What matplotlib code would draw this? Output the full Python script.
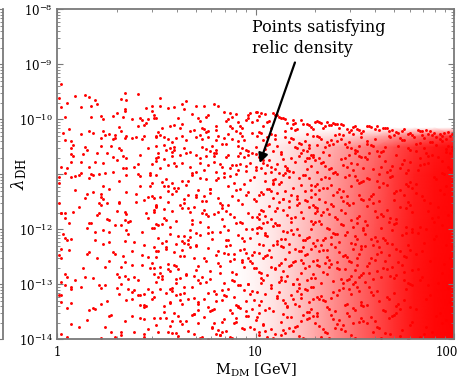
import numpy as np
import matplotlib

matplotlib.use("Agg")
import matplotlib.pyplot as plt  # noqa: E402
from matplotlib.colors import LinearSegmentedColormap  # noqa: E402
from matplotlib.ticker import (  # noqa: E402
    FixedLocator,
    FuncFormatter,
    LogLocator,
    NullFormatter,
    NullLocator,
)
from matplotlib.transforms import ScaledTranslation  # noqa: E402

OUT_PATH = "out.png"

# Scan points, stored as pairs of
# log10(M_DM / GeV), log10(lambda_DH).
PTS_1_TO_3_GEV_TOP = [
    0.02, -9.35, 0.09, -9.58, 0.34, -9.52, 0.41, -9.54, 0.14, -9.56, 0.16, -9.59, 0.19, -9.64,
    0.32, -9.63, 0.35, -9.65, 0.01, -9.62, 0.05, -9.70, 0.17, -9.75, 0.12, -9.77, 0.20, -9.72,
    0.34, -9.81, 0.34, -9.85, 0.45, -9.80, 0.48, -9.76, 0.48, -9.84, 0.02, -9.78, 0.30, -9.89,
    0.28, -9.94, 0.22, -9.94, 0.17, -9.95, 0.04, -9.96, 0.23, -9.99, 0.42, -9.98, 0.43, -10.02,
    0.49, -9.98, 0.46, -10.00, 0.45, -10.06, 0.44, -10.11, 0.50, -9.97, 0.38, -10.00, 0.33, -9.96,
    0.41, -10.12, 0.31, -10.14, 0.32, -10.21, 0.23, -10.21, 0.24, -10.28, 0.26, -10.27, 0.29, -10.29,
    0.29, -10.34, 0.22, -10.34, 0.18, -10.25, 0.16, -10.22, 0.12, -10.26, 0.06, -10.17, 0.03, -10.25,
    0.04, -10.37, 0.07, -10.39, 0.38, -10.34, 0.40, -10.33, 0.43, -10.36, 0.44, -10.31, 0.50, -10.32,
    0.51, -10.23, 0.35, -10.30, 0.34, -10.34, 0.28, -10.36, 0.08, -10.46, 0.22, -10.49, 0.27, -10.48,
    0.31, -10.53, 0.25, -10.62, 0.14, -10.50, 0.15, -10.56, 0.13, -10.63, 0.07, -10.53, 0.07, -10.63,
    0.08, -10.67, 0.12, -10.78, 0.07, -10.78, 0.05, -10.88, 0.02, -10.86, 0.04, -10.98, 0.12, -10.98,
    0.17, -10.99, 0.16, -10.86, 0.19, -10.77, 0.23, -10.79, 0.24, -10.98, 0.28, -10.96, 0.30, -10.74,
    0.33, -10.89, 0.33, -10.67, 0.35, -10.71, 0.32, -10.56, 0.35, -10.89, 0.39, -10.86, 0.41, -10.81,
    0.46, -10.52, 0.48, -10.81, 0.50, -10.70, 0.51, -10.62, 0.50, -10.76, 0.42, -10.65, 0.47, -10.98,
    0.41, -10.99, 0.28, -10.68, 0.20, -10.62,
]

PTS_1_TO_3_GEV_MID = [
    0.07, -11.05, 0.09, -11.03, 0.11, -11.01, 0.16, -11.07, 0.18, -11.01, 0.21, -10.99, 0.35, -11.01,
    0.42, -11.03, 0.47, -11.02, 0.50, -11.02, 0.31, -11.13, 0.48, -11.15, 0.47, -11.22, 0.42, -11.21,
    0.23, -11.22, 0.26, -11.27, 0.09, -11.29, 0.01, -11.04, 0.01, -11.16, 0.15, -11.35, 0.22, -11.36,
    0.22, -11.41, 0.23, -11.44, 0.14, -11.43, 0.18, -11.32, 0.35, -11.32, 0.40, -11.36, 0.46, -11.41,
    0.48, -11.39, 0.49, -11.43, 0.44, -11.46, 0.40, -11.51, 0.31, -11.50, 0.31, -11.53, 0.25, -11.53,
    0.22, -11.56, 0.21, -11.53, 0.50, -11.55, 0.50, -11.59, 0.11, -11.60, 0.02, -11.70, 0.04, -11.70,
    0.08, -11.68, 0.01, -11.53, 0.21, -11.70, 0.20, -11.74, 0.30, -11.66, 0.34, -11.69, 0.35, -11.72,
    0.45, -11.71, 0.49, -11.65, 0.49, -11.69, 0.25, -11.81, 0.26, -11.83, 0.34, -11.83, 0.37, -11.85,
    0.36, -11.86, 0.29, -11.92, 0.32, -11.92, 0.17, -11.88, 0.16, -11.89, 0.06, -11.88, 0.04, -11.80,
    0.02, -11.71, 0.46, -11.80, 0.50, -11.91, 0.49, -11.98, 0.15, -11.98, 0.19, -12.05, 0.23, -12.02,
    0.26, -12.05, 0.35, -12.02, 0.36, -12.08, 0.43, -12.05, 0.48, -11.98, 0.03, -12.08, 0.04, -12.15,
    0.05, -12.20, 0.07, -12.17, 0.02, -12.35, 0.06, -12.37, 0.19, -12.20, 0.23, -12.27, 0.26, -12.23,
    0.34, -12.21, 0.39, -12.23, 0.44, -12.29, 0.49, -12.32, 0.50, -12.40, 0.16, -12.41, 0.15, -12.45,
    0.20, -12.53, 0.28, -12.42, 0.29, -12.44, 0.33, -12.49, 0.38, -12.40, 0.43, -12.47, 0.46, -12.51,
    0.01, -12.47,
]

PTS_1_TO_3_GEV_LOW = [
    0.02, -12.53, 0.26, -12.58, 0.34, -12.59, 0.38, -12.64, 0.48, -12.61, 0.49, -12.70, 0.47, -12.71,
    0.43, -12.64, 0.32, -12.68, 0.24, -12.68, 0.13, -12.71, 0.04, -12.81, 0.05, -12.87, 0.09, -12.93,
    0.14, -12.87, 0.18, -12.89, 0.30, -12.81, 0.31, -12.87, 0.34, -12.84, 0.36, -12.90, 0.39, -12.87,
    0.41, -12.93, 0.49, -12.81, 0.50, -12.96, 0.02, -12.96, 0.04, -13.01, 0.07, -13.05, 0.07, -13.08,
    0.12, -13.05, 0.21, -13.02, 0.22, -13.07, 0.24, -13.01, 0.30, -13.06, 0.32, -12.99, 0.36, -13.08,
    0.38, -13.14, 0.39, -13.10, 0.41, -13.20, 0.42, -13.19, 0.44, -13.18, 0.46, -13.08, 0.48, -13.14,
    0.49, -13.23, 0.01, -13.19, 0.02, -13.20, 0.02, -13.32, 0.07, -13.34, 0.05, -13.43, 0.18, -13.43,
    0.16, -13.46, 0.19, -13.44, 0.22, -13.35, 0.25, -13.31, 0.31, -13.17, 0.35, -13.29, 0.38, -13.26,
    0.42, -13.38, 0.44, -13.41, 0.44, -13.37, 0.45, -13.40, 0.48, -13.26, 0.26, -13.58, 0.27, -13.55,
    0.15, -13.65, 0.07, -13.72, 0.11, -13.77, 0.24, -13.78, 0.27, -13.86, 0.32, -13.87, 0.34, -13.66,
    0.38, -13.58, 0.42, -13.62, 0.44, -13.63, 0.49, -13.62, 0.46, -13.81, 0.44, -13.90, 0.39, -13.87,
    0.02, -13.90, 0.05, -13.95, 0.22, -13.98, 0.29, -13.95, 0.32, -13.92, 0.44, -13.96,
]

PTS_3_TO_10_GEV_TOP = [
    0.52, -9.61, 0.65, -9.66, 0.52, -9.75, 0.63, -9.73, 0.56, -9.80, 0.59, -9.78, 0.64, -9.81,
    0.70, -9.75, 0.74, -9.76, 0.79, -9.73, 0.81, -9.76, 0.75, -9.95, 0.76, -9.93, 0.84, -9.86,
    0.87, -9.89, 0.90, -9.90, 0.88, -9.95, 0.97, -9.89, 1.00, -9.87, 0.68, -9.90, 0.71, -9.98,
    0.72, -10.03, 0.61, -9.98, 0.49, -9.92, 0.85, -10.03, 0.86, -10.00, 0.95, -10.02, 0.96, -9.97,
    0.98, -10.04, 1.01, -10.01, 0.91, -10.05, 0.53, -10.15, 0.57, -10.13, 0.59, -10.10, 0.62, -10.16,
    0.63, -10.09, 0.67, -10.22, 0.69, -10.19, 0.74, -10.18, 0.75, -10.23, 0.76, -10.21, 0.80, -10.13,
    0.80, -10.19, 0.86, -10.27, 0.88, -10.15, 0.90, -10.22, 0.92, -10.12, 0.93, -10.16, 0.50, -10.31,
    0.52, -10.29, 0.54, -10.33, 0.56, -10.36, 0.60, -10.34, 0.63, -10.30, 0.65, -10.37, 0.70, -10.33,
    0.73, -10.35, 0.76, -10.32, 0.80, -10.38, 0.81, -10.30, 0.84, -10.34, 0.88, -10.36, 0.91, -10.40,
    0.93, -10.31, 0.98, -10.25, 0.50, -10.49, 0.54, -10.47, 0.55, -10.56, 0.57, -10.52, 0.58, -10.60,
    0.59, -10.55, 0.64, -10.53, 0.73, -10.51, 0.75, -10.54, 0.77, -10.57, 0.78, -10.48, 0.83, -10.45,
    0.85, -10.44, 0.91, -10.48, 0.93, -10.53, 0.95, -10.55, 0.96, -10.58, 0.98, -10.61, 1.00, -10.51,
    0.51, -10.68, 0.54, -10.72, 0.58, -10.66, 0.62, -10.64, 0.65, -10.62, 0.67, -10.60, 0.70, -10.65,
    0.72, -10.70, 0.75, -10.66, 0.79, -10.67, 0.80, -10.62, 0.85, -10.69, 0.86, -10.64, 0.91, -10.66,
    0.92, -10.61, 0.94, -10.68, 0.96, -10.65, 1.00, -10.63, 0.52, -10.89, 0.56, -10.83, 0.60, -10.84,
    0.63, -10.80, 0.67, -10.86, 0.72, -10.79, 0.76, -10.83, 0.79, -10.77, 0.82, -10.82, 0.83, -10.87,
    0.87, -10.88, 0.90, -10.83, 0.92, -10.81, 0.95, -10.84, 0.97, -10.80, 1.00, -10.86, 0.68, -10.98,
    0.70, -10.96, 0.80, -10.95, 0.84, -10.97, 0.90, -10.99, 0.91, -10.92, 0.95, -10.94, 1.00, -10.93,
]

PTS_3_TO_10_GEV_LOW = [
    0.63, -11.12, 0.91, -11.47, 0.55, -11.83, 0.78, -12.05, 0.99, -12.41, 0.52, -12.68, 0.84, -12.97, 0.69, -13.24, 0.95, -13.58, 0.60, -13.89,
    0.87, -11.03, 0.58, -11.36, 0.74, -11.64, 1.01, -11.98, 0.66, -12.27, 0.93, -12.55, 0.51, -12.86, 0.80, -13.17, 0.71, -13.46, 0.97, -13.77,
    0.54, -11.21, 0.82, -11.52, 0.96, -11.71, 0.61, -12.13, 0.76, -12.34, 0.88, -12.77, 0.68, -13.05, 0.57, -13.33, 1.00, -13.65, 0.73, -13.96,
    0.92, -11.27, 0.70, -11.41, 0.53, -11.90, 0.85, -12.19, 0.64, -12.49, 0.98, -12.62, 0.77, -12.91, 0.90, -13.38, 0.59, -13.52, 0.81, -13.83,
    0.75, -11.08, 0.50, -11.58, 0.89, -11.77, 0.67, -12.02, 0.94, -12.36, 0.56, -12.72, 0.83, -13.11, 0.62, -13.29, 0.79, -13.71, 1.02, -13.92,
    0.58, -11.16, 0.96, -11.33, 0.72, -11.86, 0.53, -12.24, 0.86, -12.45, 0.65, -12.83, 0.91, -13.02, 0.76, -13.41, 0.55, -13.62, 0.88, -13.98,
    0.99, -11.05, 0.64, -11.44, 0.81, -11.68, 0.57, -12.09, 0.70, -12.31, 0.93, -12.59, 0.52, -13.08, 0.85, -13.21, 0.68, -13.55, 0.78, -13.80,
    0.61, -11.24, 0.86, -11.55, 0.54, -11.79, 0.97, -12.16, 0.74, -12.52, 0.60, -12.66, 0.89, -12.94, 0.71, -13.35, 0.95, -13.49, 0.51, -13.86,
    0.80, -11.10, 0.95, -11.38, 0.66, -11.62, 0.84, -11.94, 0.51, -12.39, 0.77, -12.75, 0.62, -12.88, 1.01, -13.14, 0.83, -13.68, 0.69, -13.91,
    0.56, -11.30, 0.73, -11.49, 0.90, -11.88, 0.63, -12.21, 0.98, -12.47, 0.82, -12.80, 0.55, -13.15, 0.92, -13.43, 0.74, -13.60, 0.61, -13.94,
    0.94, -11.18, 0.52, -11.42, 0.79, -11.73, 0.70, -12.07, 0.87, -12.29, 0.59, -12.64, 0.96, -12.99, 0.66, -13.27, 0.50, -13.74, 0.85, -13.85,
    0.68, -11.01, 0.83, -11.61, 0.57, -11.96, 0.91, -12.11, 0.75, -12.57, 1.00, -12.70, 0.64, -13.04, 0.80, -13.31, 0.88, -13.53, 0.72, -13.97,
    0.53, -11.14, 0.77, -11.34, 1.02, -11.81, 0.60, -12.26, 0.84, -12.43, 0.71, -12.92, 0.97, -13.18, 0.54, -13.39, 0.65, -13.66, 0.93, -13.79,
    0.86, -11.22, 0.62, -11.56, 0.73, -11.70, 0.95, -12.00, 0.55, -12.33, 0.81, -12.61, 0.69, -12.84, 0.89, -13.23, 0.78, -13.47, 0.58, -13.88,
    0.72, -11.07, 0.99, -11.45, 0.60, -11.85, 0.78, -12.18, 0.92, -12.38, 0.52, -12.79, 0.86, -13.09, 0.63, -13.36, 0.96, -13.57, 0.82, -13.93,
    0.90, -11.28, 0.56, -11.51, 0.85, -11.67, 0.67, -12.14, 0.50, -12.50, 0.94, -12.69, 0.75, -12.95, 0.58, -13.12, 0.71, -13.70, 0.99, -13.82,
    0.65, -11.19, 0.88, -11.39, 0.51, -11.92, 0.82, -12.04, 0.70, -12.28, 0.61, -12.73, 0.92, -13.01, 0.79, -13.44, 0.54, -13.51, 0.76, -13.99,
    0.97, -11.11, 0.69, -11.59, 0.76, -11.75, 0.55, -12.22, 0.89, -12.54, 0.73, -12.87, 0.60, -13.20, 0.95, -13.30, 0.84, -13.63, 0.66, -13.84,
    0.59, -11.25, 0.81, -11.43, 0.93, -11.89, 0.72, -12.10, 0.63, -12.37, 0.87, -12.58, 0.53, -12.90, 0.74, -13.26, 1.01, -13.59, 0.57, -13.76,
    0.84, -11.04, 0.66, -11.37, 0.58, -11.66, 0.98, -11.99, 0.80, -12.46, 0.56, -12.63, 0.79, -13.13, 0.91, -13.40, 0.62, -13.67, 0.87, -13.95,
    0.71, -11.29, 0.93, -11.54, 0.83, -11.82, 0.51, -12.15, 0.67, -12.32, 0.90, -12.81, 0.72, -12.98, 0.57, -13.34, 0.77, -13.48, 0.94, -13.81,
    0.55, -11.09, 0.75, -11.48, 0.98, -11.78, 0.86, -12.20, 0.59, -12.42, 0.70, -12.74, 0.88, -12.93, 0.64, -13.16, 0.52, -13.61, 0.80, -13.90,
    0.89, -11.15, 0.60, -11.31, 0.68, -11.91, 0.76, -12.06, 0.96, -12.53, 0.82, -12.67, 0.58, -13.07, 0.98, -13.45, 0.69, -13.54, 0.63, -13.73,
    0.77, -11.26, 0.54, -11.63, 0.87, -11.72, 0.64, -12.25, 0.81, -12.40, 0.53, -12.85, 0.94, -13.10, 0.83, -13.28, 0.90, -13.69, 0.56, -13.87,
]

PTS_4_TO_20_GEV_EXTRA = [
    0.58, -10.42, 0.83, -11.55, 1.12, -12.64, 0.71, -13.33, 0.96, -9.93, 1.25, -11.02, 0.64, -12.12, 0.89, -13.71, 1.18, -10.71, 0.76, -11.96,
    1.03, -12.88, 0.61, -13.58, 0.92, -10.24, 1.21, -11.44, 0.69, -12.53, 0.98, -13.12, 1.27, -10.53, 0.56, -11.22, 0.85, -12.31, 1.14, -13.83,
    0.73, -10.16, 1.01, -11.78, 0.60, -12.97, 0.87, -13.46, 1.16, -10.88, 0.67, -11.68, 0.94, -12.22, 1.23, -13.25, 0.79, -10.61, 1.08, -11.31,
    0.57, -12.75, 0.82, -13.92, 1.10, -10.35, 0.66, -11.12, 0.95, -12.43, 1.29, -13.05, 0.74, -10.93, 1.04, -11.89, 0.62, -13.17, 0.90, -13.62,
    1.19, -10.09, 0.70, -11.37, 0.99, -12.70, 1.26, -13.51, 0.59, -10.79, 0.86, -12.02, 1.13, -12.93, 0.78, -13.78, 1.06, -10.47, 0.63, -11.61,
    0.93, -12.16, 1.22, -13.39, 0.72, -10.28, 1.00, -11.49, 0.55, -12.36, 0.84, -13.20, 1.15, -10.97, 0.68, -11.83, 0.97, -12.58, 1.24, -13.97,
    0.80, -10.56, 1.09, -11.17, 0.65, -12.81, 0.91, -13.41, 1.20, -10.19, 0.75, -11.72, 1.02, -12.27, 0.58, -13.67, 0.88, -10.83, 1.17, -11.59,
    0.62, -12.48, 0.96, -13.00, 1.28, -10.64, 0.77, -11.27, 1.05, -12.07, 0.69, -13.54, 0.94, -10.38, 1.11, -11.93, 0.57, -13.09, 0.83, -13.86,
    1.07, -10.74, 0.74, -11.40, 1.23, -12.39, 0.60, -12.90, 0.87, -10.12, 1.14, -11.65, 0.66, -12.19, 0.99, -13.29, 1.26, -10.90, 0.81, -11.06,
    0.71, -12.67, 1.04, -13.74, 0.59, -10.50, 0.92, -11.86, 1.19, -12.99, 0.76, -13.15, 1.01, -10.31, 0.64, -11.53, 0.89, -12.45, 1.16, -13.59,
]

PTS_10_TO_20_GEV = [
    1.05, -9.91, 1.18, -10.34, 1.27, -10.71, 1.09, -11.15, 1.22, -11.52, 1.03, -11.97, 1.14, -12.33, 1.29, -12.81, 1.11, -13.24, 1.20, -13.77,
    1.24, -10.08, 1.07, -10.45, 1.16, -10.92, 1.28, -11.28, 1.04, -11.66, 1.19, -12.08, 1.25, -12.47, 1.08, -12.69, 1.21, -13.12, 1.13, -13.93,
    1.12, -9.96, 1.26, -10.27, 1.06, -10.83, 1.17, -11.04, 1.30, -11.71, 1.10, -11.89, 1.23, -12.56, 1.15, -12.94, 1.02, -13.38, 1.27, -13.61,
    1.08, -10.15, 1.21, -10.52, 1.29, -10.64, 1.03, -11.33, 1.14, -11.45, 1.25, -12.19, 1.09, -12.28, 1.19, -13.00, 1.28, -13.45, 1.05, -13.84,
    1.19, -10.02, 1.04, -10.38, 1.12, -10.97, 1.23, -11.19, 1.07, -11.58, 1.28, -11.84, 1.17, -12.41, 1.02, -12.77, 1.14, -13.29, 1.24, -13.56,
    1.03, -9.88, 1.15, -10.21, 1.25, -10.76, 1.10, -11.08, 1.20, -11.77, 1.06, -12.13, 1.29, -12.24, 1.13, -12.86, 1.22, -13.06, 1.09, -13.98,
    1.27, -10.11, 1.09, -10.57, 1.02, -10.68, 1.18, -11.37, 1.26, -11.49, 1.12, -11.93, 1.04, -12.52, 1.24, -12.62, 1.16, -13.41, 1.30, -13.70,
    1.14, -9.98, 1.22, -10.43, 1.08, -10.87, 1.30, -11.22, 1.11, -11.62, 1.18, -12.02, 1.07, -12.38, 1.21, -12.90, 1.05, -13.17, 1.15, -13.88,
    1.06, -10.05, 1.29, -10.30, 1.19, -10.95, 1.05, -11.12, 1.23, -11.69, 1.15, -12.17, 1.26, -12.45, 1.10, -12.73, 1.27, -13.33, 1.02, -13.52,
    1.21, -10.18, 1.11, -10.49, 1.04, -10.79, 1.25, -11.30, 1.09, -11.43, 1.28, -11.99, 1.20, -12.58, 1.03, -12.98, 1.18, -13.20, 1.23, -13.66,
    1.10, -9.93, 1.03, -10.25, 1.23, -10.61, 1.14, -11.01, 1.29, -11.55, 1.08, -11.81, 1.13, -12.30, 1.27, -12.67, 1.09, -13.48, 1.17, -13.79,
    1.28, -10.14, 1.17, -10.41, 1.10, -10.90, 1.07, -11.26, 1.16, -11.74, 1.22, -12.10, 1.05, -12.49, 1.16, -12.84, 1.25, -13.09, 1.06, -13.95,
    1.02, -9.94, 1.24, -10.55, 1.14, -10.73, 1.21, -11.40, 1.03, -11.64, 1.11, -12.21, 1.28, -12.35, 1.08, -13.02, 1.20, -13.36, 1.29, -13.58,
    1.16, -10.06, 1.06, -10.32, 1.28, -10.85, 1.12, -11.17, 1.25, -11.47, 1.02, -11.95, 1.19, -12.60, 1.23, -12.79, 1.12, -13.14, 1.04, -13.72,
    1.23, -10.01, 1.13, -10.59, 1.05, -10.98, 1.27, -11.06, 1.18, -11.79, 1.26, -12.15, 1.11, -12.26, 1.04, -12.92, 1.29, -13.27, 1.19, -13.85,
    1.09, -9.89, 1.19, -10.36, 1.22, -10.66, 1.04, -11.35, 1.12, -11.51, 1.16, -12.05, 1.02, -12.43, 1.25, -12.71, 1.07, -13.43, 1.26, -13.63,
    1.04, -10.12, 1.27, -10.47, 1.11, -10.81, 1.19, -11.24, 1.06, -11.86, 1.29, -11.91, 1.15, -12.54, 1.12, -12.96, 1.23, -13.18, 1.10, -13.91,
    1.26, -10.09, 1.02, -10.23, 1.17, -10.94, 1.09, -11.10, 1.27, -11.60, 1.13, -12.18, 1.24, -12.32, 1.18, -12.64, 1.03, -13.30, 1.14, -13.54,
    1.13, -9.97, 1.20, -10.51, 1.26, -10.70, 1.15, -11.31, 1.02, -11.72, 1.21, -12.00, 1.08, -12.50, 1.28, -12.88, 1.16, -13.39, 1.21, -13.75,
    1.07, -10.03, 1.10, -10.28, 1.03, -10.88, 1.24, -11.02, 1.14, -11.44, 1.05, -12.11, 1.22, -12.39, 1.14, -12.75, 1.28, -13.04, 1.08, -13.82,
    1.18, -10.16, 1.25, -10.40, 1.13, -10.63, 1.02, -11.38, 1.21, -11.56, 1.18, -11.87, 1.29, -12.57, 1.06, -12.83, 1.11, -13.22, 1.25, -13.99,
    1.11, -9.92, 1.05, -10.54, 1.20, -10.77, 1.28, -11.20, 1.10, -11.67, 1.01, -12.07, 1.17, -12.27, 1.22, -12.99, 1.05, -13.46, 1.18, -13.60,
    1.29, -10.17, 1.15, -10.33, 1.08, -10.96, 1.13, -11.14, 1.24, -11.80, 1.27, -12.14, 1.06, -12.46, 1.10, -12.70, 1.26, -13.11, 1.13, -13.68,
    1.01, -9.86, 1.23, -10.44, 1.29, -10.69, 1.06, -11.27, 1.17, -11.48, 1.09, -11.94, 1.20, -12.36, 1.26, -12.93, 1.15, -13.34, 1.02, -13.86,
    1.20, -10.07, 1.08, -10.26, 1.15, -10.84, 1.22, -11.07, 1.05, -11.76, 1.24, -12.20, 1.13, -12.61, 1.03, -12.80, 1.19, -13.26, 1.27, -13.51,
    1.15, -10.00, 1.26, -10.58, 1.04, -10.74, 1.11, -11.34, 1.28, -11.41, 1.14, -12.03, 1.04, -12.29, 1.17, -12.66, 1.08, -13.07, 1.22, -13.94,
]

PTS_20_TO_35_GEV = [
    1.33, -10.06, 1.47, -10.42, 1.38, -10.89, 1.52, -11.16, 1.31, -11.61, 1.44, -11.93, 1.36, -12.37, 1.50, -12.74, 1.41, -13.19, 1.34, -13.81,
    1.49, -10.14, 1.35, -10.51, 1.43, -10.72, 1.32, -11.29, 1.54, -11.47, 1.39, -12.06, 1.46, -12.51, 1.30, -12.88, 1.53, -13.33, 1.42, -13.64,
    1.40, -10.09, 1.53, -10.33, 1.31, -10.96, 1.45, -11.05, 1.37, -11.72, 1.51, -12.18, 1.33, -12.29, 1.44, -12.97, 1.36, -13.42, 1.48, -13.92,
    1.36, -10.04, 1.42, -10.26, 1.51, -10.81, 1.39, -11.37, 1.46, -11.53, 1.30, -11.86, 1.52, -12.44, 1.38, -12.63, 1.47, -13.08, 1.31, -13.57,
    1.52, -10.19, 1.31, -10.47, 1.37, -10.65, 1.48, -11.21, 1.34, -11.68, 1.45, -12.11, 1.40, -12.33, 1.53, -12.83, 1.32, -13.26, 1.44, -13.74,
    1.44, -10.11, 1.38, -10.38, 1.49, -10.93, 1.33, -11.09, 1.51, -11.79, 1.36, -11.98, 1.48, -12.59, 1.41, -12.70, 1.50, -13.47, 1.37, -13.98,
    1.31, -10.03, 1.50, -10.56, 1.34, -10.77, 1.43, -11.42, 1.39, -11.57, 1.54, -12.02, 1.32, -12.40, 1.46, -12.92, 1.39, -13.14, 1.52, -13.68,
    1.47, -10.23, 1.40, -10.29, 1.46, -10.86, 1.54, -11.12, 1.32, -11.44, 1.42, -12.23, 1.37, -12.55, 1.34, -12.77, 1.45, -13.38, 1.35, -13.87,
    1.35, -10.13, 1.45, -10.45, 1.53, -10.68, 1.36, -11.25, 1.48, -11.83, 1.33, -11.90, 1.50, -12.27, 1.49, -12.99, 1.31, -13.23, 1.46, -13.53,
    1.54, -10.21, 1.33, -10.36, 1.41, -10.99, 1.50, -11.03, 1.43, -11.65, 1.38, -12.14, 1.44, -12.48, 1.32, -12.67, 1.51, -13.04, 1.40, -13.79,
    1.39, -10.07, 1.48, -10.53, 1.30, -10.74, 1.41, -11.33, 1.35, -11.50, 1.49, -11.95, 1.35, -12.62, 1.52, -12.86, 1.37, -13.44, 1.53, -13.61,
    1.42, -10.16, 1.36, -10.41, 1.44, -10.83, 1.31, -11.18, 1.52, -11.76, 1.41, -12.08, 1.53, -12.35, 1.39, -12.94, 1.48, -13.17, 1.33, -13.95,
    1.50, -10.12, 1.31, -10.30, 1.50, -10.62, 1.46, -11.40, 1.38, -11.54, 1.31, -12.20, 1.42, -12.42, 1.45, -12.72, 1.34, -13.29, 1.49, -13.71,
    1.32, -10.05, 1.52, -10.48, 1.37, -10.91, 1.53, -11.14, 1.45, -11.70, 1.51, -11.88, 1.30, -12.31, 1.36, -12.81, 1.54, -13.40, 1.38, -13.55,
    1.46, -10.18, 1.43, -10.35, 1.32, -10.70, 1.37, -11.07, 1.30, -11.59, 1.46, -12.04, 1.47, -12.57, 1.50, -12.96, 1.42, -13.10, 1.45, -13.84,
    1.37, -10.10, 1.34, -10.59, 1.48, -10.79, 1.44, -11.30, 1.53, -11.45, 1.35, -12.16, 1.38, -12.26, 1.31, -12.65, 1.46, -13.35, 1.54, -13.66,
    1.53, -10.24, 1.49, -10.27, 1.40, -10.95, 1.34, -11.24, 1.41, -11.81, 1.54, -11.97, 1.51, -12.53, 1.43, -12.90, 1.33, -13.21, 1.36, -13.89,
    1.41, -10.08, 1.39, -10.44, 1.52, -10.66, 1.51, -11.11, 1.36, -11.63, 1.40, -12.09, 1.34, -12.38, 1.54, -12.79, 1.40, -13.48, 1.47, -13.58,
    1.34, -10.15, 1.46, -10.50, 1.35, -10.85, 1.30, -11.35, 1.49, -11.52, 1.32, -11.84, 1.45, -12.46, 1.37, -12.68, 1.52, -13.12, 1.32, -13.76,
    1.48, -10.20, 1.32, -10.32, 1.45, -10.71, 1.47, -11.01, 1.33, -11.74, 1.48, -12.24, 1.41, -12.60, 1.48, -12.84, 1.35, -13.31, 1.50, -13.97,
    1.43, -10.09, 1.51, -10.57, 1.39, -10.98, 1.38, -11.19, 1.44, -11.48, 1.37, -12.00, 1.53, -12.30, 1.33, -12.98, 1.44, -13.06, 1.39, -13.63,
    1.30, -10.04, 1.41, -10.39, 1.47, -10.64, 1.42, -11.27, 1.31, -11.67, 1.50, -12.12, 1.36, -12.50, 1.42, -12.73, 1.49, -13.43, 1.43, -13.82,
    1.51, -10.17, 1.37, -10.46, 1.33, -10.80, 1.52, -11.38, 1.47, -11.56, 1.43, -11.91, 1.49, -12.36, 1.51, -12.64, 1.38, -13.25, 1.31, -13.52,
    1.38, -10.11, 1.44, -10.28, 1.54, -10.88, 1.35, -11.04, 1.40, -11.78, 1.34, -12.19, 1.31, -12.56, 1.47, -12.91, 1.53, -13.37, 1.41, -13.73,
]

PTS_35_TO_63_GEV = [
    1.58, -10.14, 1.72, -10.49, 1.63, -10.86, 1.77, -11.21, 1.56, -11.57, 1.69, -12.02, 1.61, -12.44, 1.75, -12.78, 1.66, -13.23, 1.59, -13.86,
    1.74, -10.22, 1.60, -10.36, 1.68, -10.93, 1.57, -11.09, 1.79, -11.69, 1.64, -12.15, 1.71, -12.35, 1.55, -12.95, 1.78, -13.41, 1.67, -13.62,
    1.65, -10.16, 1.78, -10.55, 1.56, -10.72, 1.70, -11.34, 1.62, -11.48, 1.76, -11.96, 1.58, -12.52, 1.69, -12.68, 1.61, -13.12, 1.73, -13.94,
    1.61, -10.13, 1.67, -10.31, 1.76, -10.97, 1.64, -11.16, 1.71, -11.82, 1.55, -12.09, 1.77, -12.29, 1.63, -12.87, 1.72, -13.35, 1.56, -13.71,
    1.77, -10.26, 1.56, -10.44, 1.62, -10.67, 1.73, -11.28, 1.59, -11.53, 1.70, -11.91, 1.65, -12.58, 1.78, -12.99, 1.57, -13.05, 1.69, -13.57,
    1.69, -10.19, 1.63, -10.60, 1.74, -10.81, 1.58, -11.40, 1.76, -11.62, 1.61, -12.21, 1.73, -12.40, 1.66, -12.72, 1.75, -13.28, 1.62, -13.80,
    1.56, -10.12, 1.75, -10.38, 1.59, -10.90, 1.68, -11.05, 1.64, -11.75, 1.79, -12.05, 1.57, -12.62, 1.71, -12.83, 1.64, -13.47, 1.77, -13.99,
    1.72, -10.24, 1.65, -10.51, 1.71, -10.64, 1.79, -11.25, 1.57, -11.44, 1.67, -11.87, 1.62, -12.33, 1.59, -12.91, 1.70, -13.16, 1.60, -13.66,
    1.60, -10.17, 1.70, -10.29, 1.78, -10.78, 1.61, -11.12, 1.73, -11.59, 1.58, -12.18, 1.75, -12.49, 1.74, -12.65, 1.56, -13.38, 1.71, -13.53,
    1.79, -10.28, 1.58, -10.46, 1.66, -10.95, 1.75, -11.37, 1.68, -11.79, 1.63, -11.98, 1.69, -12.26, 1.57, -12.80, 1.76, -13.09, 1.65, -13.89,
    1.64, -10.15, 1.73, -10.34, 1.55, -10.69, 1.66, -11.19, 1.60, -11.66, 1.74, -12.11, 1.60, -12.55, 1.77, -12.97, 1.62, -13.31, 1.78, -13.74,
    1.67, -10.21, 1.61, -10.57, 1.69, -10.84, 1.56, -11.07, 1.77, -11.51, 1.66, -12.24, 1.78, -12.38, 1.64, -12.70, 1.73, -13.44, 1.58, -13.60,
    1.75, -10.18, 1.56, -10.40, 1.75, -10.74, 1.71, -11.31, 1.63, -11.72, 1.56, -11.93, 1.67, -12.46, 1.70, -12.89, 1.59, -13.20, 1.74, -13.83,
    1.57, -10.13, 1.77, -10.53, 1.62, -10.99, 1.78, -11.14, 1.70, -11.46, 1.76, -12.07, 1.55, -12.31, 1.61, -12.76, 1.79, -13.02, 1.63, -13.97,
    1.71, -10.23, 1.68, -10.32, 1.57, -10.62, 1.62, -11.23, 1.55, -11.85, 1.71, -11.89, 1.72, -12.60, 1.75, -12.93, 1.67, -13.26, 1.70, -13.55,
    1.62, -10.20, 1.59, -10.48, 1.73, -10.88, 1.69, -11.03, 1.78, -11.55, 1.60, -12.14, 1.63, -12.42, 1.56, -12.66, 1.71, -13.39, 1.79, -13.69,
    1.78, -10.25, 1.74, -10.37, 1.65, -10.76, 1.59, -11.36, 1.66, -11.64, 1.79, -12.00, 1.76, -12.51, 1.68, -12.85, 1.58, -13.14, 1.61, -13.78,
    1.66, -10.16, 1.64, -10.58, 1.77, -10.92, 1.76, -11.18, 1.61, -11.77, 1.65, -12.20, 1.59, -12.28, 1.79, -12.74, 1.65, -13.49, 1.68, -13.91,
]

PTS_63_TO_100_GEV = [
    1.82, -10.19, 1.91, -10.33, 1.97, -10.48, 1.86, -10.62, 1.94, -10.97, 1.81, -11.34, 1.89, -11.80, 1.99, -12.31, 1.84, -12.86, 1.93, -13.52,
    1.95, -10.25, 1.84, -10.28, 1.88, -10.41, 1.99, -10.55, 1.83, -10.83, 1.96, -11.21, 1.87, -11.66, 1.81, -12.45, 1.97, -13.07, 1.86, -13.78,
    1.88, -10.22, 1.98, -10.30, 1.81, -10.44, 1.92, -10.68, 1.98, -10.90, 1.85, -11.47, 1.94, -11.93, 1.90, -12.18, 1.82, -12.72, 1.98, -13.33,
    1.83, -10.21, 1.93, -10.36, 1.85, -10.52, 1.96, -10.59, 1.90, -11.05, 1.92, -11.59, 1.82, -12.06, 1.95, -12.63, 1.88, -13.19, 1.83, -13.95,
    1.99, -10.27, 1.87, -10.26, 1.94, -10.39, 1.83, -10.71, 1.87, -10.79, 1.99, -11.12, 1.97, -11.74, 1.85, -12.24, 1.92, -12.98, 1.96, -13.64,
    1.90, -10.24, 1.80, -10.32, 1.91, -10.46, 1.89, -10.64, 1.95, -11.00, 1.84, -11.40, 1.90, -11.87, 1.98, -12.52, 1.86, -13.27, 1.89, -13.86,
    1.86, -10.20, 1.96, -10.35, 1.99, -10.50, 1.81, -10.57, 1.82, -10.93, 1.93, -11.28, 1.86, -12.00, 1.84, -12.39, 1.94, -12.79, 1.81, -13.44,
    1.97, -10.23, 1.89, -10.29, 1.83, -10.43, 1.94, -10.75, 1.97, -10.86, 1.88, -11.52, 1.99, -11.69, 1.91, -12.12, 1.99, -13.13, 1.94, -13.71,
    1.84, -10.21, 1.94, -10.31, 1.96, -10.54, 1.87, -10.66, 1.91, -11.09, 1.81, -11.17, 1.83, -11.96, 1.88, -12.58, 1.83, -12.93, 1.91, -13.58,
    1.93, -10.26, 1.85, -10.34, 1.89, -10.42, 1.98, -10.61, 1.85, -10.81, 1.95, -11.36, 1.92, -11.78, 1.96, -12.28, 1.87, -13.02, 1.85, -13.90,
]

# Share of the area that the overlapping points turn solid red, read off
# the dense right half of the picture (rows: log10 lambda, cols: log10 M).
SHADE_LOG_M = [0.9, 1.0, 1.1, 1.2, 1.3, 1.4, 1.5, 1.6, 1.7, 1.8, 1.9, 2.0]
SHADE_LOG_LAM = [-14.0, -13.0, -12.0, -11.0, -10.5, -10.3, -10.15]
SHADE_LEVEL = [
    [0.0, 0.05, 0.12, 0.22, 0.34, 0.46, 0.58, 0.70, 0.82, 0.92, 0.97, 0.99],
    [0.0, 0.05, 0.12, 0.22, 0.34, 0.46, 0.58, 0.70, 0.82, 0.92, 0.97, 0.99],
    [0.0, 0.05, 0.11, 0.20, 0.32, 0.44, 0.56, 0.68, 0.80, 0.91, 0.96, 0.98],
    [0.0, 0.04, 0.10, 0.18, 0.29, 0.40, 0.52, 0.64, 0.77, 0.88, 0.94, 0.97],
    [0.0, 0.03, 0.08, 0.15, 0.24, 0.34, 0.45, 0.57, 0.70, 0.82, 0.90, 0.95],
    [0.0, 0.0, 0.02, 0.05, 0.09, 0.14, 0.20, 0.30, 0.42, 0.56, 0.70, 0.80],
    [0.0, 0.0, 0.0, 0.0, 0.0, 0.0, 0.0, 0.0, 0.0, 0.0, 0.0, 0.0],
]

ALL_POINT_GROUPS = [
    PTS_1_TO_3_GEV_TOP,
    PTS_1_TO_3_GEV_MID,
    PTS_1_TO_3_GEV_LOW,
    PTS_3_TO_10_GEV_TOP,
    PTS_3_TO_10_GEV_LOW,
    PTS_4_TO_20_GEV_EXTRA,
    PTS_10_TO_20_GEV,
    PTS_20_TO_35_GEV,
    PTS_35_TO_63_GEV,
    PTS_63_TO_100_GEV,
]

X_TICKS = [1, 10, 100]
X_TICK_LABELS = ["1", "10", "100"]
X_MINOR_TICKS = [2, 3, 4, 5, 6, 7, 8, 9, 20, 30, 40, 50, 60, 70, 80, 90]
Y_LIM = (1e-14, 1e-8)
X_LIM = (1, 100)
Y_UNLABELLED_DECADE = -11  # the axis title sits where this label would be

ANNOTATION_TEXT = "Points satisfying\nrelic density"
ARROW_HEAD = (10.5, 1.6e-11)
ARROW_TAIL = (15.8, 1.08e-9)
TEXT_POS = (9.6, 6.6e-9)

FRAME_COLOR = "#7a7a7a"


def to_mass_lambda(flat):
    pairs = np.asarray(flat, dtype=float).reshape(-1, 2)
    return 10 ** pairs[:, 0], 10 ** pairs[:, 1]


def decade_label(value, _pos):
    exponent = int(round(np.log10(value)))
    if exponent == Y_UNLABELLED_DECADE:
        return ""
    return rf"$\mathdefault{{10^{{{exponent}}}}}$"


def style_log_axis(ax):
    ax.set_xscale("log")
    ax.set_yscale("log")
    ax.set_xlim(*X_LIM)
    ax.set_ylim(*Y_LIM)
    ax.yaxis.set_major_locator(LogLocator(base=10, numticks=20))
    ax.yaxis.set_minor_locator(LogLocator(base=10, subs=np.arange(2, 10), numticks=20))
    ax.xaxis.set_minor_locator(FixedLocator(X_MINOR_TICKS))
    ax.xaxis.set_minor_formatter(NullFormatter())
    ax.yaxis.set_minor_formatter(NullFormatter())
    for spine in ax.spines.values():
        spine.set_color(FRAME_COLOR)
        spine.set_linewidth(1.3)


def main():
    plt.rcParams.update(
        {
            "font.family": "DejaVu Serif",
            "mathtext.fontset": "dejavuserif",
            "figure.facecolor": "white",
            "axes.facecolor": "white",
        }
    )
    fig = plt.figure(figsize=(4.62, 3.79), dpi=100)

    # right edge of the neighbouring panel, cut by the crop
    side = fig.add_axes([0.0, 0.1047, 0.0058, 0.8707])
    style_log_axis(side)
    side.patch.set_visible(False)
    side.xaxis.set_major_locator(NullLocator())
    side.xaxis.set_minor_locator(NullLocator())
    side.xaxis.set_visible(False)
    for name in ("left", "top", "bottom"):
        side.spines[name].set_visible(False)
    side.tick_params(which="both", direction="in", left=False, right=True,
                     labelleft=False, labelright=False, color=FRAME_COLOR)
    side.tick_params(which="major", length=4.5, width=0.8)
    side.tick_params(which="minor", length=2.5, width=0.6)

    ax = fig.add_axes([0.1234, 0.1047, 0.8593, 0.8707])
    style_log_axis(ax)

    gx, gy = np.meshgrid(10 ** np.array(SHADE_LOG_M), 10 ** np.array(SHADE_LOG_LAM))
    cmap = LinearSegmentedColormap.from_list("red_fill", ["#ffffff", "#ff0000"])
    ax.pcolormesh(gx, gy, np.array(SHADE_LEVEL), shading="gouraud", cmap=cmap,
                  vmin=0, vmax=1, zorder=1)

    for group in ALL_POINT_GROUPS:
        m, lam = to_mass_lambda(group)
        ax.plot(m, lam, ls="none", marker="o", ms=2.1, mew=0, color="#ff0000",
                zorder=2)

    ax.set_xticks(X_TICKS)
    ax.set_xticklabels(X_TICK_LABELS)
    ax.yaxis.set_major_formatter(FuncFormatter(decade_label))
    ax.tick_params(which="both", direction="in", top=True, right=True,
                   color=FRAME_COLOR, labelsize=8.5)
    ax.tick_params(which="major", length=4.5, width=0.8)
    ax.tick_params(which="minor", length=2.5, width=0.6)
    ax.tick_params(axis="x", pad=4.5)
    ax.tick_params(axis="y", pad=3)

    last = ax.get_xticklabels()[-1]
    last.set_transform(last.get_transform() + ScaledTranslation(-5 / 72, 0, fig.dpi_scale_trans))

    ax.set_xlabel(r"M$_{\rm DM}$ [GeV]", fontsize=10.5)
    ax.xaxis.set_label_coords(0.5, -0.068)
    ax.set_ylabel(r"$\lambda_{\rm DH}$", fontsize=12)
    ax.yaxis.set_label_coords(-0.07, 0.5)

    ax.annotate("", xy=ARROW_HEAD, xytext=ARROW_TAIL,
                arrowprops=dict(arrowstyle="-|>", color="black", lw=1.6,
                                mutation_scale=14, shrinkA=0, shrinkB=0),
                zorder=4)
    ax.text(*TEXT_POS, ANNOTATION_TEXT, fontsize=11.5, ha="left", va="top",
            linespacing=1.3, zorder=4)

    fig.savefig(OUT_PATH, dpi=100)
    plt.close(fig)


if __name__ == "__main__":
    main()
